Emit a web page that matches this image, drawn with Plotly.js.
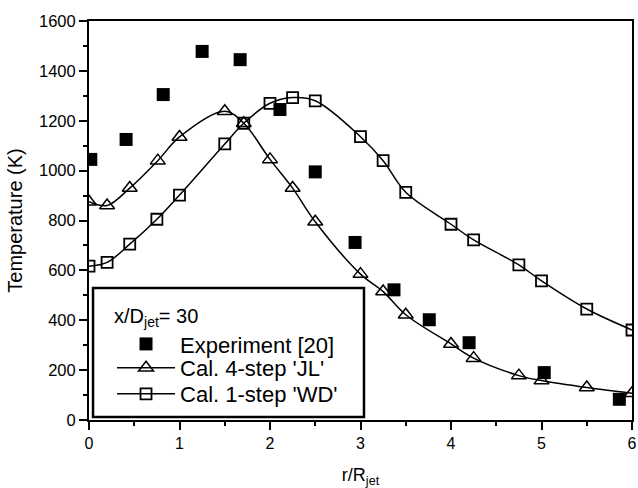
<!DOCTYPE html>
<html>
<head>
<meta charset="utf-8">
<script src="https://cdn.plot.ly/plotly-3.0.1.min.js"></script>
<style>html,body{margin:0;padding:0;background:#fff;}#chart{width:638px;height:488px;}</style>
</head>
<body>
<div id="chart"></div>
<script>
// Experiment [20]
const expR = [0.02, 0.41, 0.82, 1.25, 1.67, 2.11, 2.50, 2.94, 3.37, 3.76, 4.20, 5.03, 5.86];
const expT = [1045, 1125, 1305, 1478, 1445, 1245, 995, 712, 522, 402, 310, 190, 83];
// Cal. 4-step 'JL'
const jlR = [0, 0.2, 0.45, 0.76, 1.0, 1.5, 1.71, 2.0, 2.25, 2.5, 3.0, 3.25, 3.5, 4.0, 4.25, 4.75, 5.0, 5.5, 6.0];
const jlT = [875, 860, 930, 1040, 1135, 1238, 1190, 1045, 930, 795, 585, 515, 422, 305, 248, 178, 158, 130, 107];
// Cal. 1-step 'WD'
const wdR = [0, 0.2, 0.45, 0.75, 1.0, 1.5, 1.71, 2.0, 2.25, 2.5, 3.0, 3.25, 3.5, 4.0, 4.25, 4.75, 5.0, 5.5, 6.0];
const wdT = [617, 632, 705, 805, 902, 1107, 1190, 1270, 1293, 1280, 1136, 1040, 913, 785, 722, 622, 558, 445, 361];

const FONT = 'Liberation Sans, Arial, sans-serif';

const traces = [
  {x: expR, y: expT, name: 'Experiment [20]', mode: 'markers', type: 'scatter', legend: 'legend',
   marker: {symbol: 'square', size: 13, color: '#000'}},
  {x: jlR, y: jlT, name: "Cal. 4-step 'JL'", mode: 'lines+markers', type: 'scatter', legend: 'legend2',
   line: {color: '#000', width: 1.5, shape: 'spline', smoothing: 1},
   marker: {symbol: 'triangle-up-open', size: 13, color: '#000', line: {width: 1.5, color: '#000'}}},
  {x: wdR, y: wdT, name: "Cal. 1-step 'WD'", mode: 'lines+markers', type: 'scatter', legend: 'legend3',
   line: {color: '#000', width: 1.5, shape: 'spline', smoothing: 1},
   marker: {symbol: 'square-open', size: 11, color: '#000', line: {width: 1.8, color: '#000'}}}
];

const legendBase = {
  x: 0.0424, xanchor: 'left',
  bgcolor: 'rgba(0,0,0,0)', borderwidth: 0,
  font: {family: FONT, size: 22, color: '#000'},
  itemwidth: 58, tracegroupgap: 0
};

const layout = {
  width: 638, height: 488,
  margin: {l: 89, r: 6, t: 21, b: 68},
  paper_bgcolor: '#fff', plot_bgcolor: '#fff',
  font: {family: FONT, color: '#000', size: 16},
  showlegend: true,
  legend: Object.assign({}, legendBase, {
    y: 0.308, yanchor: 'top',
    title: {text: 'x/D<sub>jet</sub>= 30', font: {family: FONT, size: 20, color: '#000'}}
  }),
  legend2: Object.assign({}, legendBase, {y: 0.1303, yanchor: 'middle'}),
  legend3: Object.assign({}, legendBase, {y: 0.0652, yanchor: 'middle'}),
  shapes: [
    {type: 'rect', xref: 'paper', yref: 'paper', x0: 0.0074, x1: 0.5064, y0: 0.0075, y1: 0.3308,
     line: {color: '#000', width: 2.5}, fillcolor: 'rgba(0,0,0,0)', layer: 'above'}
  ],
  xaxis: {
    range: [0, 6], dtick: 1, tick0: 0, showgrid: false, zeroline: false,
    showline: true, linewidth: 2, linecolor: '#000', mirror: true,
    ticks: 'outside', ticklen: 8, tickwidth: 2, tickcolor: '#000',
    tickfont: {family: FONT, size: 16},
    minor: {dtick: 0.5, ticks: 'outside', ticklen: 4, tickwidth: 2, tickcolor: '#000', showgrid: false},
    title: {text: 'r/R<sub>jet</sub>', font: {family: FONT, size: 18}, standoff: 24}
  },
  yaxis: {
    range: [0, 1600], dtick: 200, tick0: 0, showgrid: false, zeroline: false,
    showline: true, linewidth: 2, linecolor: '#000', mirror: true,
    ticks: 'outside', ticklen: 8, tickwidth: 2, tickcolor: '#000',
    tickfont: {family: FONT, size: 16.5},
    minor: {dtick: 100, ticks: 'outside', ticklen: 4, tickwidth: 2, tickcolor: '#000', showgrid: false},
    title: {text: 'Temperature (K)', font: {family: FONT, size: 20}, standoff: 11}
  },
  xaxis2: {
    overlaying: 'x', side: 'top', range: [0, 6], dtick: 1, tick0: 0,
    showgrid: false, zeroline: false, showticklabels: false, showline: false,
    ticks: 'inside', ticklen: 8, tickwidth: 2, tickcolor: '#000',
    minor: {dtick: 0.5, ticks: 'inside', ticklen: 4, tickwidth: 2, tickcolor: '#000', showgrid: false}
  },
  yaxis2: {
    overlaying: 'y', side: 'right', range: [0, 1600], dtick: 200, tick0: 0,
    showgrid: false, zeroline: false, showticklabels: false, showline: false,
    ticks: 'inside', ticklen: 8, tickwidth: 2, tickcolor: '#000',
    minor: {dtick: 100, ticks: 'inside', ticklen: 4, tickwidth: 2, tickcolor: '#000', showgrid: false}
  }
};

Plotly.newPlot('chart', traces, layout, {displayModeBar: false, staticPlot: true});
</script>
</body>
</html>
